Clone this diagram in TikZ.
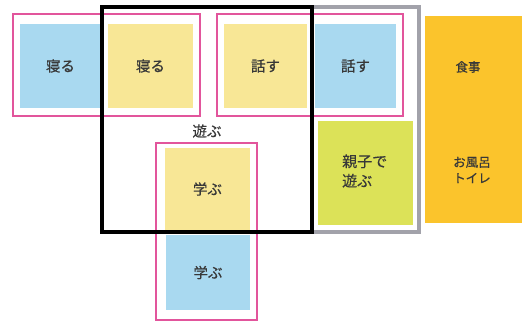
\documentclass[tikz,border=0pt]{standalone}
\usepackage{fontspec}
\setmainfont{Noto Sans CJK JP}[FakeBold=0.6]
\usetikzlibrary{positioning}
\definecolor{cblue}{HTML}{A9D9F0}
\definecolor{cyellow}{HTML}{F8E796}
\definecolor{cgreen}{HTML}{DCE258}
\definecolor{corange}{HTML}{FBC42C}
\definecolor{cpink}{HTML}{E2559C}
\definecolor{cgray}{HTML}{A2A2AA}
\definecolor{ctext}{HTML}{383838}
\tikzset{
  card/.style={inner sep=0pt, outer sep=0pt, text=ctext, font=\fontsize{14.5}{19}\selectfont},
  lbl/.style={inner sep=0pt, text=ctext, font=\fontsize{14.5}{19}\selectfont},
  small/.style={inner sep=0pt, text=ctext, font=\fontsize{12.5}{16}\selectfont, align=left},
  pinkframe/.style={draw=cpink, line width=1.5pt},
  blackframe/.style={draw=black, line width=3.5pt},
  grayframe/.style={draw=cgray, line width=3.5pt},
}
\begin{document}
\begin{tikzpicture}[x=1pt,y=-1pt]
\useasboundingbox (0,0) rectangle (525,331);
% cards
\node[card, fill=cblue, minimum width=81pt, minimum height=84pt] (sleepB) at (60.5,66) {寝る};
\node[card, fill=cyellow, minimum width=85pt, minimum height=84pt] (sleepY) at (150.5,66) {寝る};
\node[card, fill=cyellow, minimum width=83pt, minimum height=84pt] (talkY) at (265.5,66) {話す};
\node[card, fill=cblue, minimum width=81pt, minimum height=84pt] (talkB) at (355.5,66) {話す};
\node[card, fill=cgreen, minimum width=95pt, minimum height=104pt] (play) at (365.5,173) {};
\node[card, fill=corange, minimum width=97pt, minimum height=207pt] (meal) at (473.5,119.5) {};
\node[card, fill=cyellow, minimum width=85pt, minimum height=82pt] (learnY) at (207.5,189) {学ぶ};
\node[card, fill=cblue, minimum width=84pt, minimum height=75pt] (learnB) at (208,272.5) {学ぶ};
% texts
\node[lbl, align=left, anchor=west, font=\fontsize{15}{19.5}\selectfont] (playT) at (342,171) {親子で\\遊ぶ};
\node[small] (mealT) at (468,67) {食事};
\node[small, anchor=west] (bathT) at (453,170) {お風呂\\トイレ};
\node[lbl] (asobu) at (207,131) {遊ぶ};
% frames
\draw[pinkframe] (13,14) rectangle (200,116);
\draw[pinkframe] (217,14) rectangle (403,116);
\draw[pinkframe] (156,143) rectangle (257,320);
\draw[grayframe] (312,7) rectangle (419,232);
\draw[blackframe] (102,7) rectangle (312,232);
\end{tikzpicture}
\end{document}
